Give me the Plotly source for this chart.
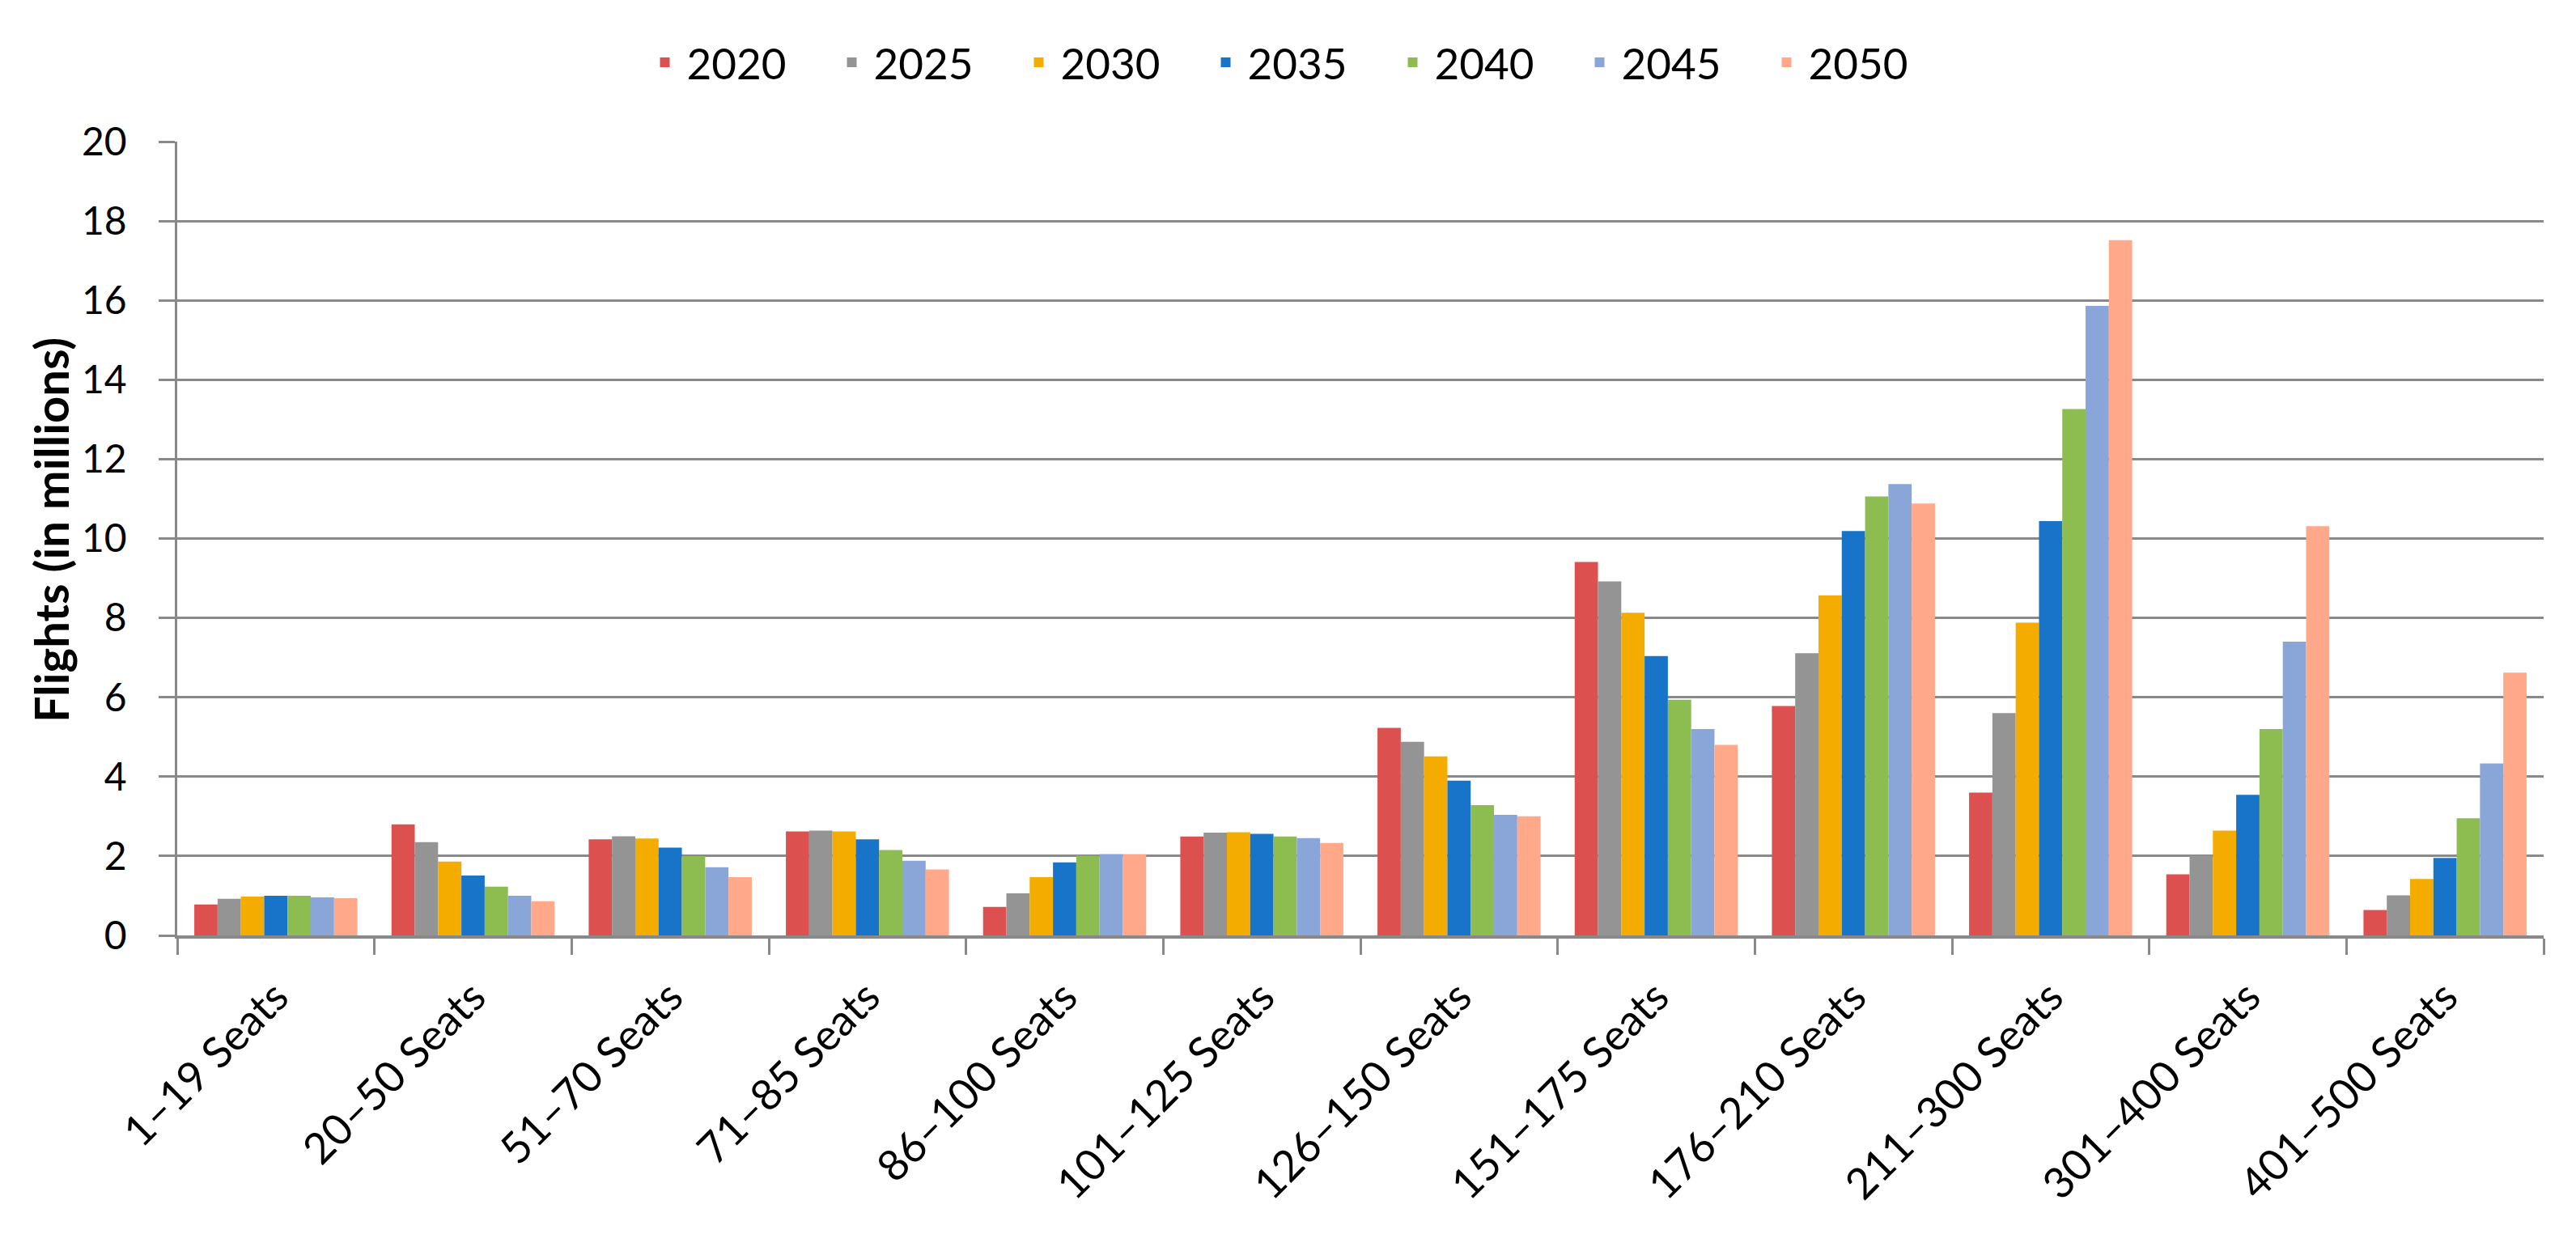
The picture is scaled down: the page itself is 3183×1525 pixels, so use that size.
import plotly.graph_objects as go

categories = ["1–19 Seats", "20–50 Seats", "51–70 Seats", "71–85 Seats", "86–100 Seats",
              "101–125 Seats", "126–150 Seats", "151–175 Seats", "176–210 Seats",
              "211–300 Seats", "301–400 Seats", "401–500 Seats"]

years = ["2020", "2025", "2030", "2035", "2040", "2045", "2050"]

v2020 = [0.78, 2.80, 2.42, 2.62, 0.72, 2.49, 5.23, 9.41, 5.78, 3.60, 1.54, 0.64]
v2025 = [0.92, 2.35, 2.50, 2.64, 1.06, 2.59, 4.88, 8.92, 7.11, 5.60, 2.01, 1.01]
v2030 = [0.98, 1.86, 2.44, 2.62, 1.47, 2.60, 4.51, 8.13, 8.57, 7.88, 2.64, 1.42]
v2035 = [1.00, 1.51, 2.21, 2.42, 1.84, 2.56, 3.90, 7.04, 10.19, 10.44, 3.54, 1.95]
v2040 = [1.00, 1.23, 2.00, 2.15, 2.01, 2.49, 3.28, 5.94, 11.06, 13.26, 5.20, 2.95]
v2045 = [0.96, 1.00, 1.72, 1.88, 2.05, 2.45, 3.04, 5.20, 11.37, 15.86, 7.40, 4.33]
v2050 = [0.94, 0.86, 1.47, 1.66, 2.05, 2.33, 3.00, 4.80, 10.88, 17.52, 10.31, 6.62]

series = [v2020, v2025, v2030, v2035, v2040, v2045, v2050]
colors = ["#DD5050", "#949494", "#F4AC00", "#1874C9", "#8DBC50", "#8AA6D9", "#FFA98A"]

y_ticks = [0, 2, 4, 6, 8, 10, 12, 14, 16, 18, 20]

FONT = "Lato"
AXIS_GRAY = "#898989"

fig = go.Figure()
for name, vals, col in zip(years, series, colors):
    fig.add_trace(go.Bar(name=name, x=categories, y=vals, marker_color=col,
                         marker_line_width=0))

# page body has an 8px margin; target positions are given in window pixels
OFF = 8
W, H = 3183 - 2 * OFF, 1525 - 2 * OFF
plot_l, plot_r, plot_t, plot_b = 219 - OFF, 3143 - OFF, 175 - OFF, 1156 - OFF
ml, mr, mt, mb = plot_l, W - plot_r, plot_t, H - plot_b
pw = plot_r - plot_l
ph = plot_b - plot_t


def px_x(x):
    return (x - OFF - plot_l) / pw


def px_y(y):
    return 1 - (y - OFF - plot_t) / ph


fig.update_layout(
    width=W, height=H,
    margin=dict(l=ml, r=mr, t=mt, b=mb, pad=0, autoexpand=False),
    paper_bgcolor="white", plot_bgcolor="white",
    barmode="group", bargap=0.173, bargroupgap=0,
    font=dict(family=FONT, color="black"),
    showlegend=True,
    legend=dict(orientation="h", x=px_x(1603), xanchor="center",
                y=px_y(77), yanchor="middle",
                font=dict(family=FONT, size=53, color="black"),
                entrywidth=172, entrywidthmode="pixels",
                itemwidth=44, traceorder="normal"),
)

fig.update_xaxes(
    type="category", showline=True, linecolor=AXIS_GRAY, linewidth=3.5,
    ticks="outside", tickson="boundaries", ticklen=20, tickcolor=AXIS_GRAY, tickwidth=2.5,
    tickangle=-45, tickfont=dict(family=FONT, size=53, color="black"),
    ticklabelstandoff=20, showgrid=False, zeroline=False, automargin=False,
)

fig.update_yaxes(
    range=[0, 20], tickvals=y_ticks, ticktext=[str(t) for t in y_ticks],
    showline=True, linecolor=AXIS_GRAY, linewidth=2.5,
    ticks="outside", ticklen=20, tickcolor=AXIS_GRAY, tickwidth=2.5,
    showgrid=True, gridcolor=AXIS_GRAY, gridwidth=2.5, zeroline=False,
    tickfont=dict(family=FONT, size=48, color="black"), ticklabelstandoff=30,
    automargin=False,
)

fig.add_annotation(
    text="<b>Flights (in millions)</b>", textangle=-90,
    xref="paper", yref="paper", x=px_x(62), y=px_y(655),
    xanchor="center", yanchor="middle", showarrow=False,
    font=dict(family=FONT, size=58, color="black"),
)

fig.write_html("out.html")
